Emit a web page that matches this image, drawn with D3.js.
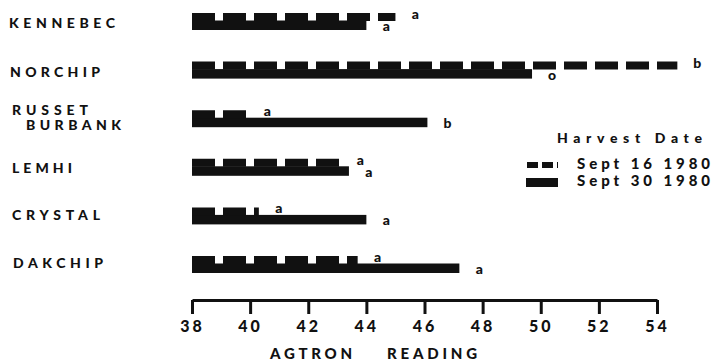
<!DOCTYPE html>
<meta charset="utf-8">
<style>
body { margin: 0; background: #fff; }
svg text { font-family: "Lato", "Open Sans", sans-serif; font-weight: 900; fill: #111; }
.axis path, .axis line { stroke: #111; stroke-width: 3; }
.axis text { font-size: 16px; letter-spacing: 3px; }
</style>
<svg class="chart"></svg>
<script src="https://d3js.org/d3.v7.min.js"></script>
<script>

var width = 714,
    height = 361;

var categories = ["KENNEBEC", "NORCHIP", "RUSSET BURBANK", "LEMHI", "CRYSTAL", "DAKCHIP"];
var sept16 = [45.0, 54.7, 39.9, 43.1, 40.3, 43.7];
var sept30 = [44.0, 49.7, 46.1, 43.4, 44.0, 47.2];
var letters16 = ["a", "b", "a", "a", "a", "a"];
var letters30 = ["a", "o", "b", "a", "a", "a"];
var ticks = [38, 40, 42, 44, 46, 48, 50, 52, 54];
var seriesNames = ["Sept 16 1980", "Sept 30 1980"];

var x = d3.scaleLinear().domain([38, 54]).range([192, 657]);
var y = d3.scalePoint().domain(categories).range([21, 264]);

var svg = d3.select(".chart")
    .attr("width", width)
    .attr("height", height);

var rows = categories.map(function(c, i) {
  return { name: c, s16: sept16[i], s30: sept30[i], l16: letters16[i], l30: letters30[i] };
});

// Sept 30: solid bars, lower half of each row
svg.selectAll("rect.s30")
    .data(rows)
  .enter().append("rect")
    .attr("class", "s30")
    .attr("x", x(38))
    .attr("y", function(d) { return y(d.name) - 0.5; })
    .attr("width", function(d) { return x(d.s30) - x(38); })
    .attr("height", 9.5)
    .attr("fill", "#111");

// Sept 16: dashed bars, upper half
svg.selectAll("line.s16")
    .data(rows)
  .enter().append("line")
    .attr("class", "s16")
    .attr("x1", x(38))
    .attr("x2", function(d) { return x(d.s16); })
    .attr("y1", function(d) { return y(d.name) - 4; })
    .attr("y2", function(d) { return y(d.name) - 4; })
    .attr("stroke", "#111")
    .attr("stroke-width", 8)
    .attr("stroke-dasharray", "23 8");

// significance letters
svg.selectAll("text.l16")
    .data(rows)
  .enter().append("text")
    .attr("class", "l16")
    .attr("x", function(d) { return x(d.s16) + 20; })
    .attr("y", function(d) { return y(d.name) - 2; })
    .attr("text-anchor", "middle")
    .style("font-size", "14px")
    .text(function(d) { return d.l16; });

svg.selectAll("text.l30")
    .data(rows)
  .enter().append("text")
    .attr("class", "l30")
    .attr("x", function(d) { return x(d.s30) + 20; })
    .attr("y", function(d) { return y(d.name) + 10; })
    .attr("text-anchor", "middle")
    .style("font-size", "14px")
    .text(function(d) { return d.l30; });

// category labels
var labelPos = {
  "KENNEBEC": [[9, 7, 106, "KENNEBEC"]],
  "NORCHIP": [[10, 7, 90, "NORCHIP"]],
  "RUSSET BURBANK": [[12, -3, 76, "RUSSET"], [26, 12, 95, "BURBANK"]],
  "LEMHI": [[12, 6, 60, "LEMHI"]],
  "CRYSTAL": [[12, 5, 88, "CRYSTAL"]],
  "DAKCHIP": [[13, 4, 90, "DAKCHIP"]]
};
categories.forEach(function(c) {
  labelPos[c].forEach(function(p) {
    svg.append("text")
        .attr("x", p[0])
        .attr("y", y(c) + p[1])
        .attr("textLength", p[2])
        .attr("lengthAdjust", "spacing")
        .style("font-size", "14px")
        .text(p[3]);
  });
});

// axis
var axis = svg.append("g")
    .attr("class", "axis")
    .attr("transform", "translate(0,300)")
    .call(d3.axisBottom(x).tickValues(ticks).tickSize(14).tickSizeOuter(0).tickPadding(7));

svg.append("text").attr("x", 270).attr("y", 359).attr("textLength", 82)
    .attr("lengthAdjust", "spacing").style("font-size", "15px").text("AGTRON");
svg.append("text").attr("x", 387).attr("y", 359).attr("textLength", 90)
    .attr("lengthAdjust", "spacing").style("font-size", "15px").text("READING");

// legend
svg.append("text").attr("x", 557).attr("y", 143).attr("textLength", 145)
    .attr("lengthAdjust", "spacing").style("font-size", "14px").text("Harvest Date");
svg.append("line")
    .attr("x1", 527).attr("x2", 558).attr("y1", 165).attr("y2", 165)
    .attr("stroke", "#111").attr("stroke-width", 6).attr("stroke-dasharray", "11 4");
svg.append("rect")
    .attr("x", 526).attr("y", 178).attr("width", 32).attr("height", 9).attr("fill", "#111");
seriesNames.forEach(function(s, i) {
  svg.append("text").attr("x", 577).attr("y", 169 + i * 17).attr("textLength", 133)
      .attr("lengthAdjust", "spacing").style("font-size", "15px").text(s);
});

</script>
